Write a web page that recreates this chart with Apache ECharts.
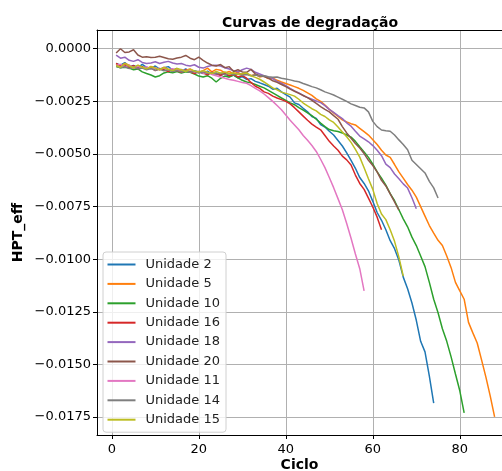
<!DOCTYPE html>
<html>
<head>
<meta charset="utf-8">
<script src="https://cdn.jsdelivr.net/npm/echarts@6/dist/echarts.min.js"></script>
<style>
  html, body { margin: 0; padding: 0; background: #fff; }
  #chart { width: 502px; height: 471px; }
</style>
</head>
<body>
<div id="chart"></div>
<script>
// valores (ciclo começa em 1)
const unidades = ['Unidade 2', 'Unidade 5', 'Unidade 10', 'Unidade 16', 'Unidade 18', 'Unidade 20', 'Unidade 11', 'Unidade 14', 'Unidade 15']
const cores = ['#1f77b4', '#ff7f0e', '#2ca02c', '#d62728', '#9467bd', '#8c564b', '#e377c2', '#7f7f7f', '#bcbd22']

const unidade2 = [-0.00070, -0.00078, -0.00066, -0.00085, -0.00079, -0.00090, -0.00074, -0.00088, -0.00095, -0.00082,
  -0.00097, -0.00090, -0.00085, -0.00102, -0.00094, -0.00108, -0.00096, -0.00112, -0.00104, -0.00110,
  -0.00118, -0.00106, -0.00121, -0.00115, -0.00126, -0.00119, -0.00131, -0.00125, -0.00138, -0.00133,
  -0.00146, -0.00142, -0.00155, -0.00162, -0.00170, -0.00178, -0.00192, -0.00188, -0.00205, -0.00218,
  -0.00230, -0.00257, -0.00265, -0.00283, -0.00300, -0.00322, -0.00331, -0.00360, -0.00372, -0.00392,
  -0.00410, -0.00436, -0.00462, -0.00495, -0.00530, -0.00568, -0.00612, -0.00640, -0.00675, -0.00725,
  -0.00778, -0.00815, -0.00860, -0.00912, -0.00950, -0.01005, -0.01085, -0.01140, -0.01208, -0.01290,
  -0.01390, -0.01440, -0.01555, -0.01684]
const unidade5 = [-0.00072, -0.00085, -0.00070, -0.00078, -0.00092, -0.00080, -0.00088, -0.00096, -0.00084, -0.00091,
  -0.00100, -0.00088, -0.00097, -0.00105, -0.00094, -0.00110, -0.00102, -0.00096, -0.00108, -0.00113,
  -0.00104, -0.00092, -0.00110, -0.00098, -0.00102, -0.00115, -0.00108, -0.00120, -0.00112, -0.00124,
  -0.00118, -0.00128, -0.00122, -0.00134, -0.00130, -0.00142, -0.00139, -0.00150, -0.00158, -0.00165,
  -0.00172, -0.00180, -0.00188, -0.00198, -0.00210, -0.00222, -0.00238, -0.00250, -0.00268, -0.00288,
  -0.00305, -0.00322, -0.00338, -0.00348, -0.00356, -0.00362, -0.00378, -0.00394, -0.00410, -0.00432,
  -0.00455, -0.00482, -0.00505, -0.00516, -0.00550, -0.00585, -0.00615, -0.00645, -0.00672, -0.00705,
  -0.00750, -0.00795, -0.00840, -0.00876, -0.00910, -0.00935, -0.00985, -0.01040, -0.01110, -0.01150,
  -0.01190, -0.01300, -0.01350, -0.01398, -0.01478, -0.01560, -0.01650, -0.01749]
const unidade10 = [-0.00085, -0.00090, -0.00088, -0.00092, -0.00100, -0.00096, -0.00110, -0.00118, -0.00125, -0.00134,
  -0.00128, -0.00115, -0.00110, -0.00114, -0.00108, -0.00116, -0.00110, -0.00112, -0.00120, -0.00130,
  -0.00134, -0.00128, -0.00140, -0.00158, -0.00140, -0.00130, -0.00135, -0.00125, -0.00138, -0.00150,
  -0.00158, -0.00162, -0.00170, -0.00178, -0.00186, -0.00198, -0.00210, -0.00222, -0.00234, -0.00245,
  -0.00257, -0.00266, -0.00280, -0.00292, -0.00305, -0.00318, -0.00335, -0.00353, -0.00370, -0.00384,
  -0.00390, -0.00393, -0.00400, -0.00410, -0.00420, -0.00440, -0.00466, -0.00490, -0.00516, -0.00548,
  -0.00585, -0.00615, -0.00648, -0.00688, -0.00722, -0.00765, -0.00808, -0.00846, -0.00895, -0.00935,
  -0.00985, -0.01035, -0.01110, -0.01190, -0.01254, -0.01330, -0.01390, -0.01464, -0.01545, -0.01625,
  -0.01730]
const unidade16 = [-0.00070, -0.00082, -0.00076, -0.00090, -0.00080, -0.00095, -0.00085, -0.00098, -0.00090, -0.00104,
  -0.00094, -0.00100, -0.00108, -0.00098, -0.00105, -0.00112, -0.00102, -0.00110, -0.00118, -0.00108,
  -0.00116, -0.00124, -0.00112, -0.00120, -0.00126, -0.00118, -0.00128, -0.00122, -0.00134, -0.00128,
  -0.00140, -0.00160, -0.00178, -0.00188, -0.00205, -0.00212, -0.00225, -0.00234, -0.00242, -0.00250,
  -0.00262, -0.00280, -0.00300, -0.00320, -0.00340, -0.00358, -0.00372, -0.00385, -0.00412, -0.00440,
  -0.00462, -0.00482, -0.00510, -0.00528, -0.00552, -0.00600, -0.00640, -0.00668, -0.00710, -0.00752,
  -0.00800, -0.00860]
const unidade18 = [-0.00030, -0.00045, -0.00040, -0.00055, -0.00060, -0.00052, -0.00065, -0.00070, -0.00068, -0.00062,
  -0.00070, -0.00064, -0.00060, -0.00068, -0.00072, -0.00070, -0.00078, -0.00082, -0.00076, -0.00088,
  -0.00092, -0.00084, -0.00080, -0.00078, -0.00082, -0.00090, -0.00096, -0.00104, -0.00110, -0.00100,
  -0.00092, -0.00098, -0.00112, -0.00120, -0.00128, -0.00135, -0.00142, -0.00155, -0.00164, -0.00175,
  -0.00188, -0.00200, -0.00210, -0.00222, -0.00232, -0.00240, -0.00248, -0.00256, -0.00270, -0.00288,
  -0.00302, -0.00318, -0.00332, -0.00352, -0.00368, -0.00392, -0.00415, -0.00428, -0.00442, -0.00460,
  -0.00482, -0.00508, -0.00548, -0.00565, -0.00595, -0.00618, -0.00642, -0.00662, -0.00708, -0.00760]
const unidade20 = [-0.00020, 0.00000, -0.00018, -0.00015, -0.00005, -0.00030, -0.00040, -0.00038, -0.00042, -0.00040,
  -0.00036, -0.00042, -0.00048, -0.00050, -0.00044, -0.00040, -0.00032, -0.00045, -0.00052, -0.00040,
  -0.00055, -0.00068, -0.00078, -0.00082, -0.00075, -0.00090, -0.00085, -0.00108, -0.00100, -0.00110,
  -0.00112, -0.00098, -0.00120, -0.00128, -0.00132, -0.00140, -0.00152, -0.00160, -0.00170, -0.00180,
  -0.00192, -0.00202, -0.00212, -0.00222, -0.00232, -0.00245, -0.00260, -0.00275, -0.00288, -0.00300,
  -0.00318, -0.00335, -0.00370, -0.00400, -0.00425, -0.00450, -0.00472, -0.00498, -0.00530, -0.00555,
  -0.00585, -0.00625, -0.00652, -0.00690, -0.00728, -0.00767]
const unidade11 = [-0.00080, -0.00074, -0.00086, -0.00078, -0.00090, -0.00084, -0.00092, -0.00086, -0.00095, -0.00090,
  -0.00098, -0.00092, -0.00100, -0.00095, -0.00102, -0.00098, -0.00106, -0.00100, -0.00110, -0.00108,
  -0.00116, -0.00112, -0.00122, -0.00128, -0.00134, -0.00140, -0.00146, -0.00150, -0.00155, -0.00160,
  -0.00164, -0.00175, -0.00188, -0.00200, -0.00215, -0.00232, -0.00250, -0.00270, -0.00290, -0.00315,
  -0.00340, -0.00362, -0.00385, -0.00412, -0.00435, -0.00460, -0.00488, -0.00525, -0.00565, -0.00612,
  -0.00660, -0.00712, -0.00765, -0.00830, -0.00900, -0.00975, -0.01045, -0.01150]
const unidade14 = [-0.00082, -0.00090, -0.00085, -0.00094, -0.00088, -0.00096, -0.00092, -0.00100, -0.00094, -0.00102,
  -0.00098, -0.00105, -0.00100, -0.00108, -0.00104, -0.00110, -0.00106, -0.00112, -0.00108, -0.00115,
  -0.00110, -0.00118, -0.00114, -0.00120, -0.00116, -0.00122, -0.00118, -0.00124, -0.00120, -0.00126,
  -0.00122, -0.00128, -0.00125, -0.00130, -0.00128, -0.00133, -0.00136, -0.00134, -0.00140, -0.00144,
  -0.00148, -0.00153, -0.00157, -0.00165, -0.00172, -0.00180, -0.00186, -0.00195, -0.00205, -0.00212,
  -0.00220, -0.00230, -0.00240, -0.00250, -0.00262, -0.00270, -0.00278, -0.00281, -0.00300, -0.00345,
  -0.00370, -0.00386, -0.00390, -0.00392, -0.00410, -0.00433, -0.00455, -0.00480, -0.00530, -0.00550,
  -0.00570, -0.00590, -0.00630, -0.00661, -0.00709]
const unidade15 = [-0.00080, -0.00088, -0.00070, -0.00082, -0.00090, -0.00078, -0.00088, -0.00095, -0.00086, -0.00092,
  -0.00100, -0.00090, -0.00098, -0.00104, -0.00094, -0.00100, -0.00108, -0.00098, -0.00106, -0.00110,
  -0.00104, -0.00112, -0.00118, -0.00108, -0.00116, -0.00110, -0.00120, -0.00114, -0.00122, -0.00118,
  -0.00115, -0.00128, -0.00136, -0.00145, -0.00158, -0.00172, -0.00186, -0.00195, -0.00206, -0.00212,
  -0.00218, -0.00225, -0.00240, -0.00258, -0.00272, -0.00285, -0.00295, -0.00312, -0.00322, -0.00338,
  -0.00350, -0.00372, -0.00395, -0.00418, -0.00445, -0.00478, -0.00515, -0.00565, -0.00618, -0.00668,
  -0.00735, -0.00785, -0.00812, -0.00860, -0.00915, -0.00990, -0.01080]

const valores = [unidade2, unidade5, unidade10, unidade16, unidade18, unidade20, unidade11, unidade14, unidade15]

const ticksX = [0, 20, 40, 60, 80]
const ticksY = [0, -0.0025, -0.005, -0.0075, -0.01, -0.0125, -0.015, -0.0175]

const fonte = 'DejaVu Sans'
const xMin = -3.4
const xMax = 89.7

const chart = echarts.init(document.getElementById('chart'), null, { renderer: 'canvas' })

const series = valores.map((v, i) => ({
  name: unidades[i],
  type: 'line',
  xAxisIndex: 0,
  data: v.map((y, k) => [k + 1, y]),
  symbol: 'none',
  color: cores[i],
  lineStyle: { width: 1.5 },
  animation: false
}))

chart.setOption({
  backgroundColor: '#fff',
  title: {
    text: 'Curvas de degradação',
    left: 305,
    top: 11,
    textAlign: 'center',
    textStyle: { fontFamily: fonte, fontWeight: 'bold', fontSize: 14, color: '#000' }
  },
  legend: {
    orient: 'vertical',
    left: 103,
    top: 252,
    padding: [5, 6, 5, 4.5],
    icon: 'rect',
    itemWidth: 28,
    itemHeight: 2,
    itemGap: 4.4,
    backgroundColor: 'rgba(255,255,255,0.8)',
    borderColor: '#d0d0d0',
    borderWidth: 1,
    borderRadius: 3,
    textStyle: { fontFamily: fonte, fontSize: 13, lineHeight: 15, color: '#222', padding: [0, 0, 0, 5] },
    data: unidades
  },
  grid: { left: 97, top: 30, right: 0, bottom: 36, outerBoundsMode: 'none', containLabel: false },
  xAxis: [{
    type: 'value',
    min: xMin,
    max: xMax,
    name: 'Ciclo',
    nameLocation: 'middle',
    nameGap: 23,
    nameMoveOverlap: false,
    nameTextStyle: { fontFamily: fonte, fontWeight: 'bold', fontSize: 14, color: '#000' },
    axisLine: { show: true, onZero: false, lineStyle: { color: '#000', width: 1 } },
    axisTick: { show: true, length: 4, customValues: ticksX, lineStyle: { color: '#000' } },
    axisLabel: { customValues: ticksX, fontFamily: fonte, fontSize: 13, color: '#000', margin: 8 },
    splitLine: { show: true, lineStyle: { color: '#b0b0b0', width: 1 } }
  }, {
    // moldura de cima
    type: 'value',
    position: 'top',
    min: xMin,
    max: xMax,
    axisLine: { show: true, onZero: false, lineStyle: { color: '#000', width: 1 } },
    axisTick: { show: false },
    axisLabel: { show: false },
    splitLine: { show: false }
  }],
  yAxis: {
    type: 'value',
    min: -0.01835,
    max: 0.00089,
    name: 'HPT_eff',
    nameLocation: 'middle',
    nameGap: 72,
    nameMoveOverlap: false,
    nameTextStyle: { fontFamily: fonte, fontWeight: 'bold', fontSize: 14, color: '#000' },
    axisLine: { show: true, onZero: false, lineStyle: { color: '#000', width: 1 } },
    axisTick: { show: true, length: 4, customValues: ticksY, lineStyle: { color: '#000' } },
    axisLabel: {
      customValues: ticksY,
      fontFamily: fonte, fontSize: 13, color: '#000', margin: 6,
      formatter: v => (v < 0 ? '\u2212' : '') + Math.abs(v).toFixed(4)
    },
    splitLine: { show: true, lineStyle: { color: '#b0b0b0', width: 1 } }
  },
  series: series
})
</script>
</body>
</html>
